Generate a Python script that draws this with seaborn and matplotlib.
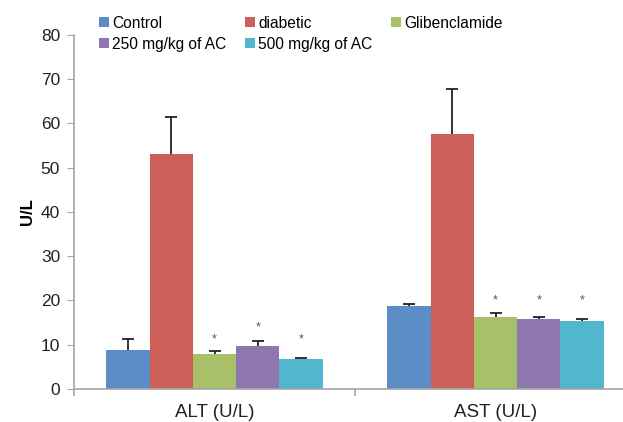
import matplotlib.pyplot as plt
import numpy as np
import pandas as pd
import seaborn as sns

tests = ["ALT (U/L)", "AST (U/L)"]
groups = ["Control", "diabetic", "Glibenclamide", "250 mg/kg of AC", "500 mg/kg of AC"]
colors = ["#5B8EC6", "#CC5F57", "#A8C068", "#8F76AE", "#52B7CE"]

# mean values per group, [ALT, AST]
means = {
    "Control": [8.9, 18.8],
    "diabetic": [53.0, 57.6],
    "Glibenclamide": [8.0, 16.3],
    "250 mg/kg of AC": [9.6, 15.9],
    "500 mg/kg of AC": [6.7, 15.4],
}
errs = {
    "Control": [2.4, 0.4],
    "diabetic": [8.5, 10.2],
    "Glibenclamide": [0.5, 0.9],
    "250 mg/kg of AC": [1.3, 0.3],
    "500 mg/kg of AC": [0.3, 0.4],
}
# height of the significance star, None = no star
stars = {
    "Control": [None, None],
    "diabetic": [None, None],
    "Glibenclamide": [11.3, 20.0],
    "250 mg/kg of AC": [14.0, 20.0],
    "500 mg/kg of AC": [11.3, 20.0],
}

rows = []
for g in groups:
    for i, t in enumerate(tests):
        rows.append({"test": t, "group": g, "value": means[g][i]})
df = pd.DataFrame(rows)

plt.rcParams["font.family"] = ["Liberation Sans", "DejaVu Sans"]

fig = plt.figure(figsize=(6.23, 4.22), dpi=100)
ax = fig.add_axes([74 / 623, 1 - 389 / 422, (636 - 74) / 623, (389 - 34.6) / 422])

sns.barplot(
    data=df,
    x="test",
    y="value",
    hue="group",
    hue_order=groups,
    palette=colors,
    width=0.77,
    gap=0,
    saturation=1,
    errorbar=None,
    ax=ax,
)

for g, cont in zip(groups, ax.containers):
    xs = [p.get_x() + p.get_width() / 2 for p in cont.patches]
    ys = means[g]
    eb = ax.errorbar(
        xs, ys, yerr=[np.zeros(len(ys)), errs[g]],
        fmt="none", ecolor="#222222", elinewidth=1.3, capsize=4, capthick=1.3,
    )
    # only the upper cap is drawn in the original
    eb[1][0].set_visible(False)
    for x, s in zip(xs, stars[g]):
        if s is not None:
            ax.text(x, s, "*", ha="center", va="center", fontsize=9, color="#555555")

ax.set_ylim(0, 80)
ax.set_xlim(-0.5, 1.5)
ax.set_yticks(np.arange(0, 81, 10))
ax.set_xlabel("")
ax.set_ylabel("U/L", fontsize=12, fontweight="bold", labelpad=4)

for s in ["top", "right"]:
    ax.spines[s].set_visible(False)
for s in ["left", "bottom"]:
    ax.spines[s].set_color("#A6A6A6")
    ax.spines[s].set_linewidth(1.2)

ax.tick_params(axis="y", length=5, color="#A6A6A6", labelsize=12.5, pad=5, labelcolor="#222222")
ax.tick_params(axis="x", length=0, labelsize=13.5, pad=11, labelcolor="#222222")
ax.set_xticks([-0.5, 0.5, 1.5], minor=True)
ax.tick_params(axis="x", which="minor", length=5, color="#A6A6A6", width=1.2)

handles, labels = ax.get_legend_handles_labels()
ax.get_legend().remove()
order = [0, 3, 1, 4, 2]
fig.legend(
    [handles[i] for i in order],
    [labels[i] for i in order],
    ncol=3,
    loc="upper left",
    bbox_to_anchor=(0.149, 0.978),
    frameon=False,
    fontsize=11.2,
    handlelength=0.65,
    handleheight=0.65,
    handletextpad=0.2,
    columnspacing=1.2,
    labelspacing=0.4,
    borderaxespad=0,
)

fig.savefig("out.png", dpi=100)
